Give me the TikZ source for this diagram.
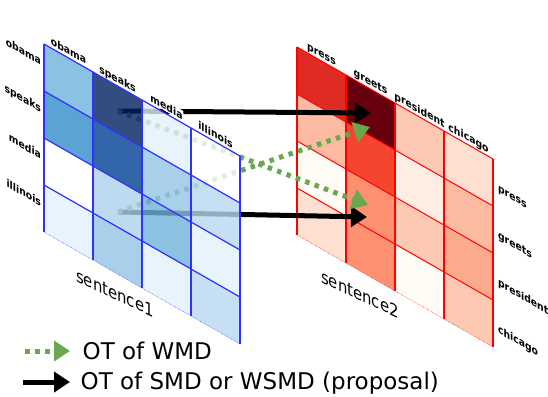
\documentclass[tikz,border=0pt]{standalone}
\usepackage{fontspec}
\setmainfont{DejaVu Sans}
\usetikzlibrary{arrows.meta}
% blue palette (drawn with opacity 0.8)
\definecolor{bw}{HTML}{FFFFFF}
\definecolor{bqA}{HTML}{E2F1FB}
\definecolor{bqB}{HTML}{B8D7F0}
\definecolor{bqC}{HTML}{ACD1EC}
\definecolor{bqD}{HTML}{92C4E5}
\definecolor{bqE}{HTML}{6EB1DA}
\definecolor{bqF}{HTML}{328CC9}
\definecolor{bqG}{HTML}{003E95}
\definecolor{bqH}{HTML}{002160}
% red palette
\definecolor{rqA}{HTML}{FFFCF5}
\definecolor{rqC}{HTML}{FEEDE2}
\definecolor{rqD}{HTML}{FEE0D2}
\definecolor{rqE}{HTML}{FDC9B2}
\definecolor{rqF}{HTML}{FCBBA1}
\definecolor{rqG}{HTML}{FCAA8E}
\definecolor{rqH}{HTML}{FC9070}
\definecolor{rqI}{HTML}{F5452F}
\definecolor{rqJ}{HTML}{E02B25}
\definecolor{rqK}{HTML}{67000D}
\definecolor{gridB}{HTML}{3030FF}
\definecolor{gridR}{HTML}{FF0000}
\definecolor{otG}{HTML}{6AA84F}

\begin{document}
\begin{tikzpicture}[x=1pt, y=-1pt,
  every node/.style={inner sep=1pt},
  lbl/.style={font=\fontsize{10.6}{12}\selectfont\bfseries, xscale=0.875, transform shape, fill=white},
  sent/.style={font=\fontsize{17.5}{20}\selectfont, transform shape, inner sep=0pt, anchor=base west},
  leg/.style={font=\fontsize{23}{27}\selectfont, inner sep=0pt, anchor=base west},
  bcell/.style={fill opacity=0.8},
  bline/.style={draw=gridB, line width=1.2pt},
  rline/.style={draw=gridR, line width=1pt},
  ot/.style={-{Triangle[length=16pt,width=20pt]}, line width=5pt},
  wmd/.style={ot, otG, dash pattern=on 4.5pt off 5.5pt}
]
  \useasboundingbox (0,0) rectangle (548,396);

  % sentence2 matrix
  \begin{scope}[shift={(297,47)}, yslant=-0.5714]
    \foreach \cl [count=\k from 0] in {rqJ,rqK,rqE,rqD, rqF,rqI,rqC,rqF, rqA,rqH,rqE,rqG, rqD,rqH,rqA,rqE}{
      \pgfmathtruncatemacro{\rw}{\k/4}
      \pgfmathtruncatemacro{\cn}{mod(\k,4)}
      \fill[\cl] (\cn*49,\rw*47) -- ++(49,0) -- ++(0,47) -- ++(-49,0) -- cycle;
    }
    \foreach \w [count=\i from 0] in {press,greets,president,chicago}{
      \node[lbl, anchor=base] (rcol\i) at (\i*49+24.5,-3.5) {\w};
      \node[lbl, anchor=base west] (rrow\i) at (200,\i*47+30) {\w};
    }
    \foreach \i in {0,...,3} \draw[rline] (0,\i*47) -- (196,\i*47);
    \foreach \i in {0,...,4} \draw[rline, line width=1.3pt] (\i*49,0) -- (\i*49,188);
    \draw[rline, line width=0.5pt, densely dotted] (0,188) -- (196,188);
  \end{scope}
  \begin{scope}[shift={(321,282)}, yslant=-0.47, xscale=0.85]
    \node[sent] (sent2) at (0,0) {sentence2};
  \end{scope}

  % transport arrows (behind the sentence1 matrix)
  \coordinate (fromTop) at (118,111);
  \coordinate (fromLow) at (118,212);
  \coordinate (toTopB) at (371,113);
  \coordinate (toTopG) at (370,127);
  \coordinate (toLowG) at (368,205);
  \coordinate (toLowB) at (367,217);
  \draw[ot] (fromTop) -- (toTopB);
  \draw[ot] (fromLow) -- (toLowB);
  \draw[wmd] (fromTop) -- (toLowG);
  \draw[wmd] (fromLow) -- (toTopG);

  % sentence1 matrix
  \begin{scope}[shift={(44,44)}, yslant=-0.5714]
    \foreach \cl [count=\k from 0] in {bqE,bqH,bqA,bw, bqF,bqG,bqD,bqB, bw,bqC,bqE,bqA, bqA,bqD,bqA,bqB}{
      \pgfmathtruncatemacro{\rw}{\k/4}
      \pgfmathtruncatemacro{\cn}{mod(\k,4)}
      \fill[\cl, bcell] (\cn*49,\rw*47) -- ++(49,0) -- ++(0,47) -- ++(-49,0) -- cycle;
    }
    \foreach \w [count=\i from 0] in {obama,speaks,media,illinois}{
      \node[lbl, anchor=base] (bcol\i) at (\i*49+24.5,-3.5) {\w};
      \node[lbl, anchor=base east] (brow\i) at (-2,\i*47+23) {\w};
    }
    \foreach \i in {0,...,3} \draw[bline] (0,\i*47) -- (196,\i*47);
    \foreach \i in {0,...,4} \draw[bline, line width=1.6pt] (\i*49,0) -- (\i*49,188);
    \draw[bline, line width=0.5pt, densely dotted] (0,188) -- (196,188);
  \end{scope}
  \begin{scope}[shift={(76,281)}, yslant=-0.47, xscale=0.85]
    \node[sent] (sent1) at (0,0) {sentence1};
  \end{scope}

  % legend
  \coordinate (legA0) at (25,351);
  \coordinate (legA1) at (70,351);
  \coordinate (legB0) at (23,382);
  \coordinate (legB1) at (70,382);
  \draw[wmd] (legA0) -- (legA1);
  \draw[ot] (legB0) -- (legB1);
  \node[leg] (legwmd) at (82.5,359.5) {OT of WMD};
  \node[leg] (legsmd) at (80.5,389) {OT of SMD or WSMD (proposal)};
\end{tikzpicture}
\end{document}
